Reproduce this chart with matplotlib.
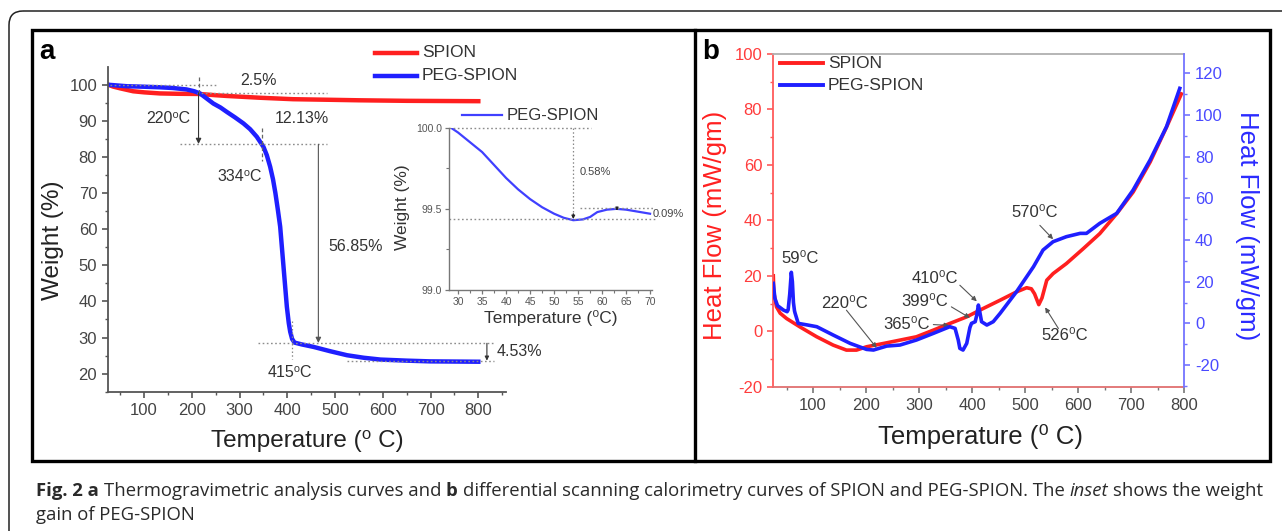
import matplotlib
matplotlib.use("Agg")
import matplotlib.pyplot as plt
from matplotlib.lines import Line2D
from matplotlib.patches import Rectangle, FancyBboxPatch
from matplotlib.transforms import Affine2D

W, H = 1282, 531

plt.rcParams["font.family"] = ["Liberation Sans", "DejaVu Sans"]
plt.rcParams["axes.unicode_minus"] = False

# ---------------- data: (a) TGA ----------------
tga_spion_t = [25, 35, 50, 77, 100, 133, 170, 215, 250, 273, 343, 412, 483, 550, 650, 800]
tga_spion_w = [100, 99.5, 99.0, 98.2, 97.9, 97.6, 97.5, 97.45, 97.1, 96.9, 96.4, 96.0,
               95.85, 95.7, 95.55, 95.45]
tga_peg_t = [25, 63, 100, 133, 160, 189, 205, 217, 230, 245, 260, 273, 290, 308, 322, 336,
             345, 350, 357, 364, 370, 375, 380, 385, 392, 399, 403, 406, 410, 415, 430, 455,
             490, 525, 560, 595, 650, 699, 750, 800]
tga_peg_w = [100, 99.6, 99.45, 99.3, 99.1, 98.7, 98.2, 97.6, 96.3, 94.8, 93.7, 92.5, 91.0,
             89.3, 87.7, 85.6, 83.8, 82.8, 80.5, 77.3, 73.8, 70.0, 65.5, 60.7, 49.6, 38.5,
             34.0, 31.6, 29.6, 28.6, 28.1, 27.4, 26.2, 25.1, 24.4, 23.9, 23.6, 23.4, 23.35, 23.3]

# inset: PEG-SPION weight gain
inset_t = [28.5, 30, 32.5, 35, 37.5, 40, 42.5, 45, 47.5, 50, 52, 54, 56, 57.5, 59, 61, 63,
           65, 67, 70]
inset_w = [100.0, 99.97, 99.91, 99.85, 99.77, 99.69, 99.62, 99.56, 99.51, 99.47, 99.445,
           99.43, 99.435, 99.45, 99.48, 99.495, 99.50, 99.495, 99.485, 99.47]

# ---------------- data: (b) DSC ----------------
dsc_spion_t = [25, 26, 31, 38, 50, 75, 107, 138, 163, 182, 201, 233, 264, 295, 327, 358, 390,
               421, 453, 484, 503, 512, 518, 526, 532, 541, 553, 578, 610, 641, 673, 704,
               736, 767, 795]
dsc_spion_hf = [20.0, 14.0, 8.8, 6.5, 4.6, 1.6, -2.0, -5.0, -6.8, -6.8, -5.6, -4.4, -3.2,
                -2.0, 0.4, 2.8, 5.2, 8.2, 11.2, 14.2, 15.7, 15.3, 13.5, 9.6, 12.0, 18.4,
                20.8, 24.4, 29.8, 35.2, 42.4, 50.2, 61.0, 73.6, 85.6]
dsc_peg_t = [25, 28, 33, 44, 51, 53, 56, 59, 61, 63, 65, 66, 72, 90, 107, 138, 170, 201, 214,
             239, 264, 295, 327, 358, 368, 374, 377, 383, 390, 396, 399, 406, 409, 412, 415,
             418, 428, 440, 453, 484, 516, 534, 553, 578, 604, 616, 641, 673, 704, 736, 767,
             792]
dsc_peg_hf = [19.2, 12.0, 8.5, 6.4, 5.6, 6.5, 14.0, 24.5, 20.0, 10.0, 6.0, 5.0, 0.0, -0.8,
              -1.6, -5.6, -9.6, -12.5, -12.8, -10.9, -10.4, -8.0, -4.8, -1.6, -2.4, -8.0,
              -12.0, -12.8, -9.6, -2.0, 0.0, 0.8, 4.0, 8.8, 5.0, 0.8, -0.8, 0.8, 4.8, 15.2,
              27.2, 35.2, 39.2, 41.6, 43.2, 43.2, 48.0, 52.8, 64.0, 78.4, 94.4, 112.8]

RED = "#ff1f1f"
BLUE = "#1f1fff"
GREY_TXT = "#333333"
SUP0 = "\u2070"  # superscript zero used in the degree labels

fig = plt.figure(figsize=(W / 100, H / 100), dpi=100)
fig.patch.set_facecolor("white")
# image pixel coordinates (y downwards) -> display
PX = Affine2D().scale(1, -1).translate(0, H)


def rect(l, t, r, b):
    return [l / W, 1 - b / H, (r - l) / W, (b - t) / H]


def ftext(x, y, s, **kw):
    kw.setdefault("ha", "center")
    kw.setdefault("va", "center")
    return fig.text(x, y, s, transform=PX, **kw)


def key_line(x0, x1, y, color, lw):
    fig.add_artist(Line2D([x0, x1], [y, y], transform=PX, color=color, lw=lw))


def dotted(ax, xs, ys, **kw):
    ax.plot(xs, ys, color="#8c8c8c", lw=1.0, ls=(0, (1.2, 1.8)), **kw)


def arrow(ax, x0, y0, x1, y1, color="k", lw=0.8, ms=8):
    ax.annotate("", xy=(x1, y1), xytext=(x0, y0),
                arrowprops=dict(arrowstyle="-|>", color=color, lw=lw,
                                mutation_scale=ms, shrinkA=0, shrinkB=0))


# ============ panel a ============
axa = fig.add_axes(rect(108.3, 66.7, 506, 391.7))
axa.plot(tga_spion_t, tga_spion_w, color=RED, lw=3.2)
axa.plot(tga_peg_t, tga_peg_w, color=BLUE, lw=3.2)
axa.set_xlim(25, 858)
axa.set_ylim(15, 105)
axa.set_facecolor("none")
for s in ("top", "right"):
    axa.spines[s].set_visible(False)
for s in ("left", "bottom"):
    axa.spines[s].set_color("#555555")
    axa.spines[s].set_linewidth(1.3)
axa.set_xticks(range(100, 801, 100))
axa.set_xticks(range(50, 851, 50), minor=True)
axa.set_yticks(range(20, 101, 10))
axa.set_yticks(range(15, 105, 5), minor=True)
axa.tick_params(which="both", direction="out", color="#555555", labelcolor="#444444",
                labelsize=12)
axa.tick_params(which="major", length=4, width=1.2, pad=4)
axa.tick_params(which="minor", length=2.5, width=1.0)

# guide lines and arrows (a)
dotted(axa, [28, 252], [100, 100])
dotted(axa, [210, 483], [97.8, 97.8])
axa.plot([214, 214], [102.2, 97.8], color="#666666", lw=0.9, ls=(0, (3, 2)))
arrow(axa, 214, 97.8, 214, 83.6, color="#333333")
dotted(axa, [175, 483], [83.5, 83.5])
axa.plot([346.6, 346.6], [88, 79], color="#666666", lw=0.9, ls=(0, (3, 2)))
arrow(axa, 465, 83.5, 465, 28.5, color="#555555")
dotted(axa, [339, 832], [28.4, 28.4])
axa.plot([410, 410], [34.5, 24], color="#888888", lw=0.9, ls=(0, (1.2, 1.8)))
dotted(axa, [525, 832], [23.4, 23.4])
arrow(axa, 818, 28.4, 818, 23.6, color="#333333", ms=6)

a_fs = 11.5
axa.text(339, 101.1, "2.5%", fontsize=a_fs, color=GREY_TXT, ha="center", va="center")
axa.text(151, 90.7, "220" + SUP0 + "C", fontsize=a_fs, color=GREY_TXT, ha="center",
         va="center")
axa.text(430, 90.7, "12.13%", fontsize=a_fs, color=GREY_TXT, ha="center", va="center")
axa.text(301, 74.5, "334" + SUP0 + "C", fontsize=a_fs, color=GREY_TXT, ha="center",
         va="center")
axa.text(542, 55.1, "56.85%", fontsize=a_fs, color=GREY_TXT, ha="center", va="center")
axa.text(406, 20.3, "415" + SUP0 + "C", fontsize=a_fs, color=GREY_TXT, ha="center",
         va="center")
axa.text(839, 26.0, "4.53%", fontsize=a_fs, color=GREY_TXT, ha="left", va="center")

ftext(307, 440.7, "Temperature (" + SUP0 + " C)", fontsize=17.5, color="#222222")
ftext(53, 240, "Weight (%)", fontsize=17.5, color="#222222", rotation=90)
ftext(47, 52, "a", fontsize=20, weight="bold", color="black")

# legend (a)
key_line(375, 417, 52.7, RED, 3.2)
key_line(375, 417, 75.7, BLUE, 3.2)
ftext(422, 52.7, "SPION", fontsize=12.5, color=GREY_TXT, ha="left")
ftext(422, 75.7, "PEG-SPION", fontsize=12.5, color=GREY_TXT, ha="left")

# ============ inset ============
axi = fig.add_axes(rect(449, 127.7, 652, 290))
axi.plot(inset_t, inset_w, color="#4040ff", lw=1.6)
axi.set_xlim(28.1, 70.4)
axi.set_ylim(99.0, 100.0)
axi.set_facecolor("none")
for s in ("top", "right"):
    axi.spines[s].set_visible(False)
for s in ("left", "bottom"):
    axi.spines[s].set_color("#777777")
    axi.spines[s].set_linewidth(1.0)
axi.set_xticks(range(30, 71, 5))
axi.set_xticks([32.5, 37.5, 42.5, 47.5, 52.5, 57.5, 62.5, 67.5], minor=True)
axi.set_yticks([99.0, 99.5, 100.0])
axi.set_yticks([99.25, 99.75], minor=True)
axi.set_yticklabels(["99.0", "99.5", "100.0"])
axi.tick_params(which="both", direction="out", color="#777777", labelcolor="#555555",
                labelsize=7.5)
axi.tick_params(which="major", length=3, width=0.9, pad=2)
axi.tick_params(which="minor", length=2, width=0.8)

dotted(axi, [28.1, 57.7], [100.0, 100.0], clip_on=False)
dotted(axi, [28.1, 71], [99.436, 99.436], clip_on=False)
dotted(axi, [55.3, 71], [99.503, 99.503], clip_on=False)
axi.plot([54, 54], [100.0, 99.47], color="#888888", lw=0.9, ls=(0, (1.2, 1.8)))
arrow(axi, 54, 99.47, 54, 99.437, color="#222222", ms=5)
arrow(axi, 63.1, 99.503, 63.1, 99.49, color="#222222", ms=4)
axi.text(55.3, 99.73, "0.58%", fontsize=8, color="#444444", ha="left", va="center")
axi.text(70.5, 99.47, "0.09%", fontsize=8, color="#444444", ha="left", va="center",
         clip_on=False)

ftext(550.7, 318.3, "Temperature (" + SUP0 + "C)", fontsize=12.5, color=GREY_TXT)
ftext(403, 206.7, "Weight (%)", fontsize=12.5, color=GREY_TXT, rotation=90)
key_line(461.7, 501.7, 115, "#4040ff", 1.6)
ftext(507, 115, "PEG-SPION", fontsize=12, color=GREY_TXT, ha="left")

# ============ panel b ============
RED_AX = "#ff5a5a"
BLUE_AX = "#7474ff"
axb = fig.add_axes(rect(773.3, 54, 1184, 386.7))
axb.plot(dsc_spion_t, dsc_spion_hf, color=RED, lw=2.6)
axb.set_xlim(25, 800)
axb.set_ylim(-20, 100)
axb.set_facecolor("none")
axb.spines["right"].set_visible(False)
axb.spines["left"].set_color(RED_AX)
axb.spines["bottom"].set_color("#e07070")
axb.spines["top"].set_color("#b0b0b0")
for s in ("left", "bottom", "top"):
    axb.spines[s].set_linewidth(1.3)
axb.set_xticks(range(100, 801, 100))
axb.set_xticks(range(50, 801, 50), minor=True)
axb.set_yticks(range(-20, 101, 20))
axb.set_yticks(range(-10, 100, 20), minor=True)
axb.tick_params(axis="x", which="both", direction="out", color="#777777",
                labelcolor="#444444", labelsize=12)
axb.tick_params(axis="y", which="both", direction="out", color=RED_AX,
                labelcolor="#ff3c3c", labelsize=12)
axb.tick_params(which="major", length=4, width=1.2, pad=4)
axb.tick_params(which="minor", length=2.5, width=1.0)

axb2 = axb.twinx()
axb2.plot(dsc_peg_t, dsc_peg_hf, color=BLUE, lw=2.6)
axb2.set_ylim(-30.4, 129.3)
for s in ("left", "top", "bottom"):
    axb2.spines[s].set_visible(False)
axb2.spines["right"].set_color(BLUE_AX)
axb2.spines["right"].set_linewidth(1.3)
axb2.set_yticks(range(-20, 121, 20))
axb2.set_yticks(range(-30, 130, 20), minor=True)
axb2.tick_params(axis="y", which="both", direction="out", color=BLUE_AX,
                 labelcolor="#4a4aff", labelsize=12)
axb2.tick_params(which="major", length=4, width=1.2, pad=4)
axb2.tick_params(which="minor", length=2.5, width=1.0)

b_fs = 12
notes_b = [
    ("59", 75, 26.2, None),
    ("220", 160, 10.0, (163, 7.6, 220, -6.0)),
    ("365", 277, 2.4, (327, 2.4, 357, 2.1)),
    ("399", 311, 10.8, (361, 8.8, 396, 4.8)),
    ("410", 330, 19.2, (377, 16.6, 409, 10.8)),
    ("570", 519, 42.7, (528, 38.2, 553, 33.2)),
    ("526", 575, -1.4, (563, 1.0, 538, 8.6)),
]
for label, tx, ty, arr in notes_b:
    axb.text(tx, ty, label + SUP0 + "C", fontsize=b_fs, color=GREY_TXT, ha="center",
             va="center")
    if arr is not None:
        arrow(axb, arr[0], arr[1], arr[2], arr[3], color="#555555", lw=0.8, ms=7)

ftext(980, 436.7, "Temperature (" + SUP0 + " C)", fontsize=18.5, color="#222222")
ftext(715, 225.7, "Heat Flow (mW/gm)", fontsize=18.5, color="#ff2020", rotation=90)
ftext(1247, 225.7, "Heat Flow (mW/gm)", fontsize=18.5, color="#2a2aff", rotation=-90)
ftext(711, 52, "b", fontsize=20, weight="bold", color="black")

key_line(780, 823, 63.3, RED, 2.8)
key_line(780, 823, 85, BLUE, 2.8)
ftext(828, 63.3, "SPION", fontsize=12.5, color=GREY_TXT, ha="left")
ftext(828, 85, "PEG-SPION", fontsize=12.5, color=GREY_TXT, ha="left")

# ============ frames ============
fig.add_artist(FancyBboxPatch((9, 11), 1320, 560, boxstyle="round,pad=0,rounding_size=14",
                              transform=PX, fill=False, ec="#222222", lw=1.1))
fig.add_artist(Rectangle((32, 30), 1238, 431, transform=PX, fill=False, ec="black", lw=2.4))
fig.add_artist(Line2D([695, 695], [30, 461], transform=PX, color="black", lw=2.4))

# ============ caption ============
cap_fs = 13.3
cap_lines = [
    (496.5, [("Fig. 2 a", "bold", "normal"),
             ("Thermogravimetric analysis curves and", "normal", "normal"),
             ("b", "bold", "normal"),
             ("differential scanning calorimetry curves of SPION and PEG-SPION. The",
              "normal", "normal"),
             ("inset", "normal", "italic"),
             ("shows the weight", "normal", "normal")]),
    (519.5, [("gain of PEG-SPION", "normal", "normal")]),
]
renderer = fig.canvas.get_renderer()
space_px = 0.26 * cap_fs * 100 / 72
for y, pieces in cap_lines:
    x = 36
    for txt, weight, style in pieces:
        t = ftext(x, y, txt, fontsize=cap_fs, family=["Open Sans", "DejaVu Sans"],
                  weight=weight, style=style, ha="left", va="baseline", color="#2a2a2a")
        x += t.get_window_extent(renderer).width + space_px

fig.savefig("out.png", dpi=100, facecolor="white")
